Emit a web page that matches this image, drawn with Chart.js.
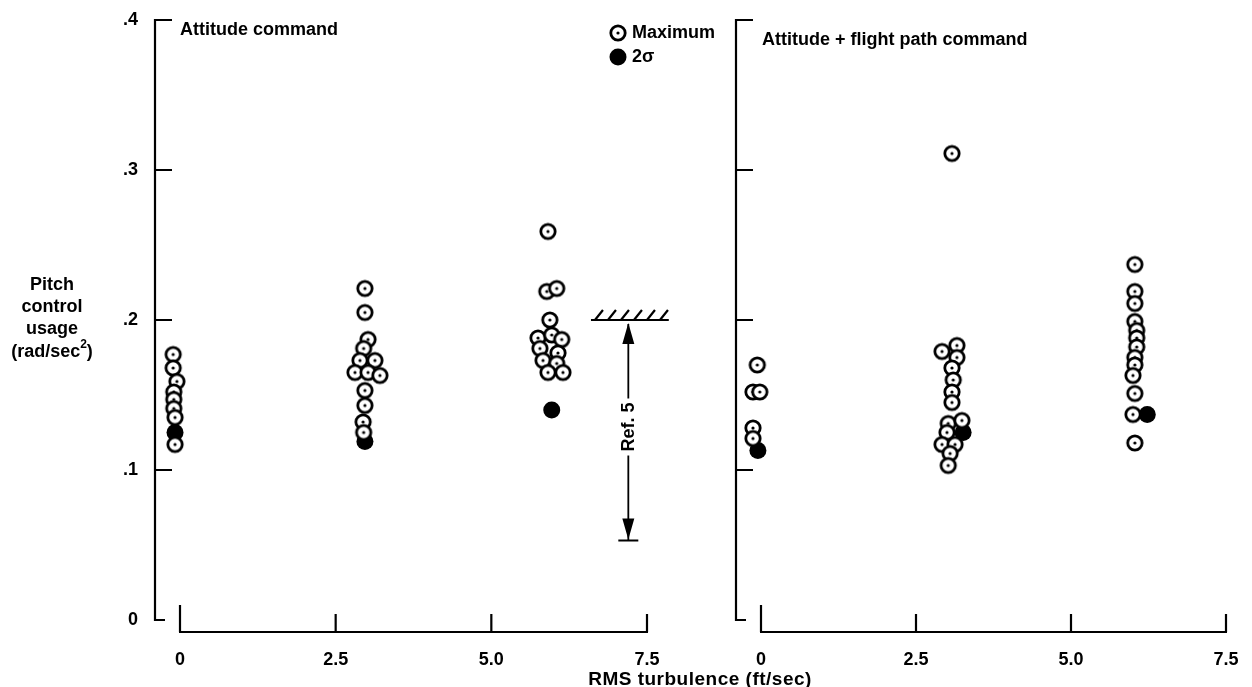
<!DOCTYPE html>
<html>
<head>
<meta charset="utf-8">
<script src="https://cdn.jsdelivr.net/npm/chart.js@4.4.0/dist/chart.umd.min.js"></script>
<style>
  html, body { margin: 0; padding: 0; background: #fff; }
  #wrap { position: relative; width: 1252px; height: 687px; overflow: hidden; }
  canvas { position: absolute; top: 0; }
</style>
</head>
<body>
<div id="wrap">
  <canvas id="left" width="1252" height="687" style="left:0"></canvas>
  <canvas id="right" width="552" height="687" style="left:700px"></canvas>
</div>
<script>
const FONT = '"Liberation Sans", Arial, Helvetica, sans-serif';

// axes
const yTicks = [0, 0.1, 0.2, 0.3, 0.4];
const yTickLabels = ['0', '.1', '.2', '.3', '.4'];
const xTicks = [0, 2.5, 5.0, 7.5];
const xTickLabels = ['0', '2.5', '5.0', '7.5'];

// Attitude command - maximum values
const attMaxX = [-0.11, -0.11, -0.05, -0.10, -0.10, -0.10, -0.08, -0.08,
  2.97, 2.97, 3.02, 2.95, 2.89, 3.13, 2.81, 3.02, 3.21, 2.97, 2.97, 2.94, 2.95,
  5.91, 5.89, 6.05, 5.94, 5.75, 5.97, 6.13, 5.78, 6.07, 5.83, 6.05, 5.91, 6.15];
const attMaxY = [0.177, 0.168, 0.159, 0.152, 0.147, 0.141, 0.135, 0.117,
  0.221, 0.205, 0.187, 0.181, 0.173, 0.173, 0.165, 0.165, 0.163, 0.153, 0.143, 0.132, 0.125,
  0.259, 0.219, 0.221, 0.200, 0.188, 0.190, 0.187, 0.181, 0.178, 0.173, 0.171, 0.165, 0.165];
// Attitude command - 2 sigma
const att2sX = [-0.08, 2.97, 5.97];
const att2sY = [0.125, 0.119, 0.140];

// Attitude + flight path command - maximum values
const afpMaxX = [-0.06, -0.13, -0.02, -0.13, -0.13,
  3.08, 2.92, 3.16, 3.16, 3.08, 3.10, 3.08, 3.08, 3.02, 3.24, 3.00, 2.92, 3.13, 3.05, 3.02,
  6.03, 6.03, 6.03, 6.03, 6.06, 6.06, 6.06, 6.03, 6.03, 6.00, 6.03, 6.00, 6.03];
const afpMaxY = [0.170, 0.152, 0.152, 0.128, 0.121,
  0.311, 0.179, 0.183, 0.175, 0.168, 0.160, 0.152, 0.145, 0.131, 0.133, 0.125, 0.117, 0.117, 0.111, 0.103,
  0.237, 0.219, 0.211, 0.199, 0.193, 0.188, 0.182, 0.175, 0.170, 0.163, 0.151, 0.137, 0.118];
// Attitude + flight path command - 2 sigma
const afp2sX = [-0.05, 3.26, 6.23];
const afp2sY = [0.113, 0.125, 0.137];

// Ref. 5 limit
const refTop = 0.2;
const refBottom = 0.053;
const refX = 7.2;
const refHatch = [6.6, 7.85];

function pts(xs, ys) {
  return xs.map((v, i) => ({ x: v, y: ys[i] }));
}

// open circle with a dot in the middle
const openDot = document.createElement('canvas');
openDot.width = openDot.height = 20;
(function () {
  const c = openDot.getContext('2d');
  c.fillStyle = '#fff';
  c.strokeStyle = '#000';
  c.lineWidth = 2.8;
  c.beginPath(); c.arc(10, 10, 7.2, 0, Math.PI * 2); c.fill(); c.stroke();
  c.fillStyle = '#000';
  c.beginPath(); c.arc(10, 10, 1.6, 0, Math.PI * 2); c.fill();
})();

function frame(o) {
  return {
    id: 'frame',
    afterDraw(chart) {
      const { ctx, chartArea: a } = chart;
      const x = chart.scales.x, y = chart.scales.y;
      ctx.save();
      ctx.strokeStyle = '#000';
      ctx.fillStyle = '#000';
      ctx.lineWidth = 2.2;
      ctx.font = 'bold 18px ' + FONT;
      ctx.textBaseline = 'middle';

      // y axis, ticks pointing inward
      const ax = a.left - 25;
      const yTop = y.getPixelForValue(0.4), yBot = y.getPixelForValue(0);
      ctx.beginPath();
      ctx.moveTo(ax, yTop - 1); ctx.lineTo(ax, yBot + 1);
      yTicks.forEach(v => {
        const py = y.getPixelForValue(v);
        ctx.moveTo(ax - 1, py); ctx.lineTo(ax + (v === 0 ? 10 : 17), py);
      });
      ctx.stroke();
      if (o.yLabels) {
        ctx.textAlign = 'right';
        yTicks.forEach((v, i) => ctx.fillText(yTickLabels[i], ax - 17, y.getPixelForValue(v)));
      }

      // x axis below the plot, ticks pointing up
      const by = yBot + 12;
      ctx.beginPath();
      ctx.moveTo(x.getPixelForValue(0) - 1, by); ctx.lineTo(x.getPixelForValue(7.5) + 1, by);
      xTicks.forEach((v, i) => {
        const px = x.getPixelForValue(v);
        ctx.moveTo(px, by); ctx.lineTo(px, by - (i === 0 ? 27 : 18));
      });
      ctx.stroke();
      ctx.textAlign = 'center';
      xTicks.forEach((v, i) => ctx.fillText(xTickLabels[i], x.getPixelForValue(v), by + 28));

      // panel title
      ctx.textAlign = 'left';
      ctx.fillText(o.title, o.titleX, o.titleY);

      if (o.legend) {
        ctx.drawImage(openDot, 608, 23);
        ctx.beginPath(); ctx.arc(618, 57, 8.5, 0, Math.PI * 2); ctx.fill();
        ctx.fillText('Maximum', 632, 33);
        ctx.fillText('2σ', 632, 57);
      }

      if (o.ref) {
        const rx = x.getPixelForValue(refX);
        const t = y.getPixelForValue(refTop), b = y.getPixelForValue(refBottom);
        const h0 = x.getPixelForValue(refHatch[0]), h1 = x.getPixelForValue(refHatch[1]);
        ctx.lineWidth = 2.2;
        ctx.beginPath();
        ctx.moveTo(h0, t); ctx.lineTo(h1, t);
        for (let hx = h0 + 4; hx < h1 - 4; hx += 13) {
          ctx.moveTo(hx, t); ctx.lineTo(hx + 8, t - 10);
        }
        ctx.stroke();
        ctx.lineWidth = 1.8;
        ctx.beginPath();
        ctx.moveTo(rx, t + 4); ctx.lineTo(rx, b);
        ctx.moveTo(rx - 10, b); ctx.lineTo(rx + 10, b);
        ctx.stroke();
        ctx.beginPath();
        ctx.moveTo(rx, t + 3); ctx.lineTo(rx - 6, t + 24); ctx.lineTo(rx + 6, t + 24); ctx.closePath();
        ctx.moveTo(rx, b - 1); ctx.lineTo(rx - 6, b - 22); ctx.lineTo(rx + 6, b - 22); ctx.closePath();
        ctx.fill();
        // label with a gap in the line
        const ty = 427;
        ctx.save();
        ctx.translate(rx, ty);
        ctx.rotate(-Math.PI / 2);
        const w = ctx.measureText('Ref. 5').width;
        ctx.fillStyle = '#fff';
        ctx.fillRect(-w / 2 - 4, -10, w + 8, 20);
        ctx.fillStyle = '#000';
        ctx.textAlign = 'center';
        ctx.fillText('Ref. 5', 0, 1);
        ctx.restore();
      }

      if (o.axisTitles) {
        ctx.textAlign = 'center';
        ctx.fillText('Pitch', 52, 285);
        ctx.fillText('control', 52, 307);
        ctx.fillText('usage', 52, 329);
        const s1 = '(rad/sec', s3 = ')';
        const w1 = ctx.measureText(s1).width, w3 = ctx.measureText(s3).width;
        ctx.font = 'bold 12px ' + FONT;
        const w2 = ctx.measureText('2').width;
        const x0 = 52 - (w1 + w2 + w3) / 2;
        ctx.textAlign = 'left';
        ctx.fillText('2', x0 + w1, 345);
        ctx.font = 'bold 18px ' + FONT;
        ctx.fillText(s1, x0, 352);
        ctx.fillText(s3, x0 + w1 + w2, 352);
        ctx.textAlign = 'center';
        ctx.font = 'bold 19px ' + FONT;
        ctx.letterSpacing = '0.5px';
        ctx.fillText('RMS turbulence (ft/sec)', 700, 680);
        ctx.letterSpacing = '0px';
      }
      ctx.restore();
    }
  };
}

function makeChart(id, maxPts, sigPts, pad, o) {
  return new Chart(document.getElementById(id), {
    type: 'scatter',
    data: {
      datasets: [
        { label: 'Maximum', data: maxPts, pointStyle: openDot, pointRadius: 9, clip: false },
        { label: '2σ', data: sigPts, pointStyle: 'circle', pointRadius: 8.5,
          pointBackgroundColor: '#000', pointBorderColor: '#000', pointBorderWidth: 0, clip: false }
      ]
    },
    options: {
      responsive: false,
      animation: false,
      events: [],
      layout: { padding: pad },
      plugins: { legend: { display: false }, tooltip: { enabled: false } },
      scales: {
        x: { type: 'linear', min: 0, max: 7.5, display: false },
        y: { min: 0, max: 0.4, display: false }
      }
    },
    plugins: [frame(o)]
  });
}

makeChart('left', pts(attMaxX, attMaxY), pts(att2sX, att2sY),
  { left: 180, right: 605, top: 20, bottom: 67 },
  { yLabels: true, title: 'Attitude command', titleX: 180, titleY: 30, legend: true, ref: true, axisTitles: true });

makeChart('right', pts(afpMaxX, afpMaxY), pts(afp2sX, afp2sY),
  { left: 61, right: 26, top: 20, bottom: 67 },
  { yLabels: false, title: 'Attitude + flight path command', titleX: 62, titleY: 40 });
</script>
</body>
</html>
